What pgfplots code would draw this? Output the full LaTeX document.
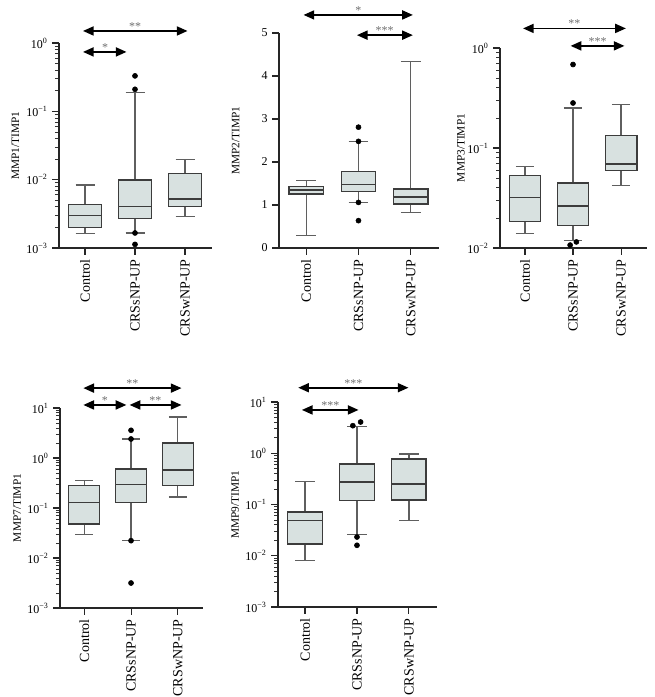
\documentclass[border=0pt]{standalone}
\usepackage{fontspec}
\setmainfont{Liberation Serif}
\usepackage{pgfplots}
\pgfplotsset{compat=1.18}
\usepgfplotslibrary{statistics}
\usetikzlibrary{arrows.meta}

\definecolor{boxfill}{RGB}{216,225,224}
\definecolor{boxedge}{RGB}{60,60,60}
\definecolor{whisk}{RGB}{95,95,95}
\definecolor{stars}{RGB}{110,110,110}

\pgfplotsset{
  panel/.style={
    scale only axis,
    axis x line=bottom, axis y line=left,
    axis line style={-, black!85, line width=0.9pt},
    xmin=-0.52, xmax=2.54,
    xtick={0,1,2},
    xticklabels={Control,CRSsNP-UP,CRSwNP-UP},
    xticklabel style={rotate=90, anchor=east, font=\fontsize{10.5}{12}\selectfont},
    yticklabel style={font=\fontsize{9}{11}\selectfont},
    ylabel style={font=\fontsize{8.5}{10}\selectfont, anchor=center, rotate=0},
    tick align=outside,
    major tick length=5pt, minor tick length=3pt,
    tick style={black!85, line width=0.8pt},
    minor tick style={black!80, line width=0.6pt},
    clip=false,
    boxplot/draw direction=y,
    boxplot/box extend=0.66,
    boxplot/whisker extend=0.38,
    boxplot/every whisker/.style={draw=whisk, line width=0.9pt},
    boxplot/every median/.style={draw=boxedge, line width=0.9pt},
    boxplot/every box/.style={draw=boxedge, fill=boxfill, line width=0.9pt},
  },
  bx/.style={solid, draw=boxedge, fill=boxfill, line width=0.9pt, mark=none},
  outl/.style={only marks, mark=*, mark size=1.9pt, black},
}
\tikzset{
  sig/.style={black, line width=1.2pt,
    {Triangle[length=8pt,width=6.8pt]}-{Triangle[length=8pt,width=6.8pt]}},
  st/.style={stars, anchor=base, yshift=0.5pt, font=\fontsize{9}{10}\selectfont},
}

\begin{document}
\begin{tikzpicture}
\useasboundingbox (0,0) rectangle (491.25pt,522.75pt);

% MMP1/TIMP1
\begin{axis}[panel, ymode=log, at={(44.25pt,336.75pt)}, anchor=south west,
  width=114.75pt, height=153.75pt,
  ymin=0.001, ymax=1,
  ytick={0.001,0.01,0.1,1},
  minor ytick={0.002,0.003,0.004,0.005,0.006,0.007,0.008,0.009,
    0.02,0.03,0.04,0.05,0.06,0.07,0.08,0.09,
    0.2,0.3,0.4,0.5,0.6,0.7,0.8,0.9},
  yticklabels={10\textsuperscript{−3},10\textsuperscript{−2},10\textsuperscript{−1},10\textsuperscript{0}},
  ylabel={MMP1/TIMP1},
  ylabel style={at={(axis description cs:-0.285,0.5)}}]
\addplot[bx, boxplot prepared={draw position=0, lower whisker=0.00162,
  lower quartile=0.00199, median=0.00297, upper quartile=0.00435,
  upper whisker=0.00836}] coordinates {};
\addplot[bx, boxplot prepared={draw position=1, lower whisker=0.00166,
  lower quartile=0.00268, median=0.0040, upper quartile=0.0099,
  upper whisker=0.19}] coordinates {};
\addplot[bx, boxplot prepared={draw position=2, lower whisker=0.0029,
  lower quartile=0.0040, median=0.0052, upper quartile=0.0123,
  upper whisker=0.0195}] coordinates {};
\addplot[outl] coordinates {(1,0.33) (1,0.21) (1,0.00166) (1,0.00113)};
\draw[sig] (axis cs:-0.04,1.5) -- (axis cs:2.05,1.5);
\node[st] at (axis cs:1.0,1.5) {**};
\draw[sig] (axis cs:-0.04,0.74) -- (axis cs:0.83,0.74);
\node[st] at (axis cs:0.4,0.74) {*};
\end{axis}

% MMP2/TIMP1
\begin{axis}[panel, at={(209.25pt,336.75pt)}, anchor=south west,
  width=120pt, height=161.25pt,
  ymin=0, ymax=5,
  ytick={0,1,2,3,4,5},
  yticklabels={0,1,2,3,4,5},
  ylabel={MMP2/TIMP1},
  ylabel style={at={(axis description cs:-0.27,0.5)}}]
\addplot[bx, boxplot prepared={draw position=0, lower whisker=0.295,
  lower quartile=1.256, median=1.349, upper quartile=1.434,
  upper whisker=1.566}] coordinates {};
\addplot[bx, boxplot prepared={draw position=1, lower whisker=1.062,
  lower quartile=1.318, median=1.473, upper quartile=1.783,
  upper whisker=2.48}] coordinates {};
\addplot[bx, boxplot prepared={draw position=2, lower whisker=0.83,
  lower quartile=1.023, median=1.186, upper quartile=1.372,
  upper whisker=4.34}] coordinates {};
\addplot[outl] coordinates {(1,2.81) (1,2.48) (1,1.06) (1,0.636)};
\draw[sig] (axis cs:-0.05,5.42) -- (axis cs:2.04,5.42);
\node[st] at (axis cs:1.0,5.42) {*};
\draw[sig] (axis cs:0.97,4.95) -- (axis cs:2.04,4.95);
\node[st] at (axis cs:1.5,4.95) {***};
\end{axis}

% MMP3/TIMP1
\begin{axis}[panel, ymode=log, at={(375pt,336.75pt)}, anchor=south west,
  width=110.25pt, height=150pt,
  ymin=0.01, ymax=1,
  ytick={0.01,0.1,1},
  minor ytick={0.02,0.03,0.04,0.05,0.06,0.07,0.08,0.09,
    0.2,0.3,0.4,0.5,0.6,0.7,0.8,0.9},
  yticklabels={10\textsuperscript{−2},10\textsuperscript{−1},10\textsuperscript{0}},
  ylabel={MMP3/TIMP1},
  ylabel style={at={(axis description cs:-0.265,0.5)}}]
\addplot[bx, boxplot prepared={draw position=0, lower whisker=0.0139,
  lower quartile=0.0185, median=0.0322, upper quartile=0.0533,
  upper whisker=0.0656}] coordinates {};
\addplot[bx, boxplot prepared={draw position=1, lower whisker=0.0118,
  lower quartile=0.0167, median=0.0263, upper quartile=0.0446,
  upper whisker=0.251}] coordinates {};
\addplot[bx, boxplot prepared={draw position=2, lower whisker=0.0423,
  lower quartile=0.0598, median=0.0692, upper quartile=0.1325,
  upper whisker=0.27}] coordinates {};
\addplot[outl] coordinates {(1,0.684) (1,0.282) (0.94,0.0107) (1.07,0.0115)};
\draw[sig] (axis cs:-0.04,1.57) -- (axis cs:2.1,1.57);
\node[st] at (axis cs:1.03,1.57) {**};
\draw[sig] (axis cs:0.95,1.05) -- (axis cs:2.07,1.05);
\node[st] at (axis cs:1.51,1.05) {***};
\end{axis}

% MMP7/TIMP1
\begin{axis}[panel, ymode=log, at={(45pt,66.75pt)}, anchor=south west,
  width=107.25pt, height=150pt,
  ymin=0.001, ymax=10,
  ytick={0.001,0.01,0.1,1,10},
  minor ytick={0.002,0.003,0.004,0.005,0.006,0.007,0.008,0.009,
    0.02,0.03,0.04,0.05,0.06,0.07,0.08,0.09,
    0.2,0.3,0.4,0.5,0.6,0.7,0.8,0.9,2,3,4,5,6,7,8,9},
  yticklabels={10\textsuperscript{−3},10\textsuperscript{−2},10\textsuperscript{−1},10\textsuperscript{0},10\textsuperscript{1}},
  ylabel={MMP7/TIMP1},
  ylabel style={at={(axis description cs:-0.30,0.5)}}]
\addplot[bx, boxplot prepared={draw position=0, lower whisker=0.030,
  lower quartile=0.048, median=0.13, upper quartile=0.28,
  upper whisker=0.352}] coordinates {};
\addplot[bx, boxplot prepared={draw position=1, lower whisker=0.0222,
  lower quartile=0.13, median=0.293, upper quartile=0.60,
  upper whisker=2.4}] coordinates {};
\addplot[bx, boxplot prepared={draw position=2, lower whisker=0.166,
  lower quartile=0.284, median=0.575, upper quartile=2.0,
  upper whisker=6.6}] coordinates {};
\addplot[outl] coordinates {(1,3.58) (1,2.4) (1,0.0222) (1,0.00316)};
\draw[sig] (axis cs:-0.02,25) -- (axis cs:2.08,25);
\node[st] at (axis cs:1.03,25) {**};
\draw[sig] (axis cs:-0.02,11.5) -- (axis cs:0.9,11.5);
\node[st] at (axis cs:0.44,11.5) {*};
\draw[sig] (axis cs:0.97,11.5) -- (axis cs:2.08,11.5);
\node[st] at (axis cs:1.52,11.5) {**};
\end{axis}

% MMP9/TIMP1
\begin{axis}[panel, ymode=log, at={(208.5pt,67.5pt)}, anchor=south west,
  width=119.25pt, height=153.75pt,
  ymin=0.001, ymax=10,
  ytick={0.001,0.01,0.1,1,10},
  minor ytick={0.002,0.003,0.004,0.005,0.006,0.007,0.008,0.009,
    0.02,0.03,0.04,0.05,0.06,0.07,0.08,0.09,
    0.2,0.3,0.4,0.5,0.6,0.7,0.8,0.9,2,3,4,5,6,7,8,9},
  yticklabels={10\textsuperscript{−3},10\textsuperscript{−2},10\textsuperscript{−1},10\textsuperscript{0},10\textsuperscript{1}},
  ylabel={MMP9/TIMP1},
  ylabel style={at={(axis description cs:-0.27,0.5)}}]
\addplot[bx, boxplot prepared={draw position=0, lower whisker=0.00815,
  lower quartile=0.0169, median=0.0484, upper quartile=0.0714,
  upper whisker=0.279}] coordinates {};
\addplot[bx, boxplot prepared={draw position=1, lower whisker=0.0262,
  lower quartile=0.119, median=0.275, upper quartile=0.617,
  upper whisker=3.3}] coordinates {};
\addplot[bx, boxplot prepared={draw position=2, lower whisker=0.049,
  lower quartile=0.122, median=0.251, upper quartile=0.772,
  upper whisker=0.966}] coordinates {};
\addplot[outl] coordinates {(0.92,3.45) (1.07,4.07) (1,0.0232) (1,0.016)};
\draw[sig] (axis cs:-0.13,19) -- (axis cs:1.99,19);
\node[st] at (axis cs:0.93,19) {***};
\draw[sig] (axis cs:-0.06,7) -- (axis cs:1.03,7);
\node[st] at (axis cs:0.49,7) {***};
\end{axis}
\end{tikzpicture}
\end{document}
